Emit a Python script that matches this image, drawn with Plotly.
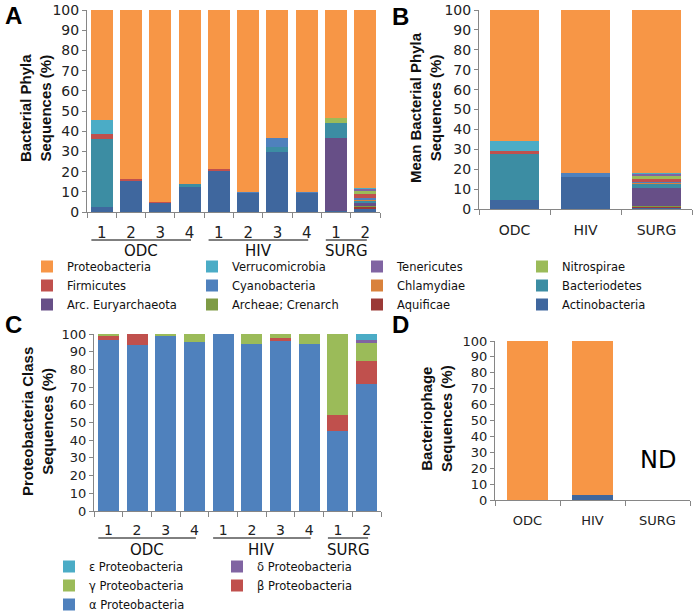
import plotly.graph_objects as go

W, H = 699, 612

# sample labels (panels A and C)
samples = ["1", "2", "3", "4", "1", "2", "3", "4", "1", "2"]
sample_groups = ["ODC"] * 4 + ["HIV"] * 4 + ["SURG"] * 2
groups = ["ODC", "HIV", "SURG"]

# panel A: % of bacterial phyla per sample (stack order bottom -> top)
phyla_a = {
    "Actinobacteria": [2.5, 15.5, 4.5, 12.5, 20.5, 9.5, 29.5, 9.5, 0.3, 1.5],
    "Aquificae": [0, 0, 0, 0, 0, 0, 0, 0, 0, 1.0],
    "Archeae; Crenarch": [0, 0, 0, 0, 0, 0, 0, 0, 0, 0.5],
    "Arc. Euryarchaeota": [0, 0, 0, 0, 0, 0, 0, 0, 36.2, 1.5],
    "Bacteriodetes": [33.5, 0, 0, 1.5, 0, 0, 2.5, 0, 7.5, 1.0],
    "Chlamydiae": [0, 0, 0, 0, 0, 0, 0, 0, 0, 0.5],
    "Cyanobacteria": [0, 0, 0, 0, 0, 0.5, 4.5, 0.5, 0, 1.0],
    "Firmicutes": [2.5, 1.0, 0.3, 0, 1.0, 0, 0, 0, 0, 2.0],
    "Nitrospirae": [0, 0, 0, 0, 0, 0, 0, 0, 2.5, 1.5],
    "Tenericutes": [0, 0, 0, 0, 0, 0, 0, 0, 0, 1.0],
    "Verrucomicrobia": [7.0, 0, 0, 0, 0, 0, 0, 0, 0, 0.5],
    "Proteobacteria": [54.5, 83.5, 95.2, 86.0, 78.5, 90.0, 63.5, 90.0, 53.5, 88.0],
}

# panel B: mean % per group
phyla_b = {
    "Actinobacteria": [4.5, 16.0, 0.6],
    "Aquificae": [0, 0, 0.5],
    "Archeae; Crenarch": [0, 0, 0.3],
    "Arc. Euryarchaeota": [0, 0, 9.2],
    "Bacteriodetes": [23.0, 0, 2.0],
    "Chlamydiae": [0, 0, 0.5],
    "Cyanobacteria": [0, 2.3, 0.3],
    "Firmicutes": [1.5, 0, 1.7],
    "Nitrospirae": [0, 0, 1.6],
    "Tenericutes": [0, 0, 1.0],
    "Verrucomicrobia": [5.0, 0, 0.4],
    "Proteobacteria": [66.0, 81.7, 81.9],
}

# order used in the legend (row by row)
legend_order = ["Proteobacteria", "Verrucomicrobia", "Tenericutes", "Nitrospirae",
                "Firmicutes", "Cyanobacteria", "Chlamydiae", "Bacteriodetes",
                "Arc. Euryarchaeota", "Archeae; Crenarch", "Aquificae", "Actinobacteria"]

colors = {
    "Proteobacteria": "#F79646", "Verrucomicrobia": "#4BACC6", "Tenericutes": "#8064A2",
    "Nitrospirae": "#9BBB59", "Firmicutes": "#C0504D", "Cyanobacteria": "#4F81BD",
    "Chlamydiae": "#D9823C", "Bacteriodetes": "#3C8DA3", "Arc. Euryarchaeota": "#674F87",
    "Archeae; Crenarch": "#7E9B45", "Aquificae": "#9B3A37", "Actinobacteria": "#3F679E",
}

# panel C: proteobacteria classes
alpha = [96.5, 94.0, 99.0, 95.5, 100.0, 94.5, 96.0, 94.5, 45.0, 71.5]
beta = [2.5, 6.0, 0, 0, 0, 0, 2.0, 0, 9.5, 13.5]
gamma = [1.0, 0, 1.0, 4.5, 0, 5.5, 2.0, 5.5, 45.5, 10.0]
delta = [0, 0, 0, 0, 0, 0, 0, 0, 0, 1.5]
epsilon = [0, 0, 0, 0, 0, 0, 0, 0, 0, 3.5]

# panel D: bacteriophage host phyla (SURG not determined)
phage_actino = [0, 3.0, 0]
phage_proteo = [100.0, 97.0, 0]

xs = list(range(len(samples)))
xg = list(range(len(groups)))

fig = go.Figure()

for name in phyla_a:
    fig.add_trace(go.Bar(x=xs, y=phyla_a[name], name=name, marker_color=colors[name],
                         width=0.75, xaxis="x", yaxis="y", legend="legend",
                         legendrank=legend_order.index(name) + 1))
for name in phyla_b:
    fig.add_trace(go.Bar(x=xg, y=phyla_b[name], name=name, marker_color=colors[name],
                         width=0.7, xaxis="x2", yaxis="y2", showlegend=False))

cls = [("α Proteobacteria", alpha, "#4F81BD", "legend2"),
       ("β Proteobacteria", beta, "#C0504D", "legend3"),
       ("γ Proteobacteria", gamma, "#9BBB59", "legend2"),
       ("δ Proteobacteria", delta, "#8064A2", "legend3"),
       ("ε Proteobacteria", epsilon, "#4BACC6", "legend2")]
for i, (name, vals, col, lg) in enumerate(cls):
    fig.add_trace(go.Bar(x=xs, y=vals, name=name, marker_color=col, width=0.73,
                         xaxis="x3", yaxis="y3", legend=lg, legendrank=10 - i))

fig.add_trace(go.Bar(x=xg, y=phage_actino, marker_color=colors["Actinobacteria"], width=0.62,
                     xaxis="x4", yaxis="y4", showlegend=False))
fig.add_trace(go.Bar(x=xg, y=phage_proteo, marker_color=colors["Proteobacteria"], width=0.62,
                     xaxis="x4", yaxis="y4", showlegend=False))

fig.update_traces(marker_line_width=0)

# pixel -> paper fraction
def fx(p):
    return p / W

def fy(p):
    return 1 - p / H

def px_x(a, b):
    return [fx(a), fx(b)]

def px_y(top, bottom):
    return [fy(bottom), fy(top)]

axcol = "#868686"

def yax(dom, size, anchor):
    return dict(domain=dom, range=[0, 100], dtick=10, anchor=anchor, showgrid=False,
                zeroline=False, showline=True, linecolor=axcol, ticks="outside", ticklen=4,
                tickcolor=axcol, ticklabeloverflow="allow", fixedrange=True,
                tickfont=dict(family="DejaVu Sans", size=size, color="#222"))

def xax(dom, labels, size, anchor, standoff):
    n = len(labels)
    return dict(domain=dom, range=[-0.5, n - 0.5], anchor=anchor, showgrid=False,
                zeroline=False, showline=True, linecolor=axcol, fixedrange=True,
                tickmode="array", tickvals=list(range(n)), ticktext=labels, ticks="",
                ticklabelstandoff=standoff,
                tickfont=dict(family="DejaVu Sans", size=size, color="#222"),
                minor=dict(tickmode="array", tickvals=[i - 0.5 for i in range(n + 1)],
                           ticks="outside", ticklen=5, tickcolor=axcol))

legfont = dict(family="DejaVu Sans", size=11.5, color="#111")

fig.update_layout(
    width=W, height=H, margin=dict(l=0, r=0, t=0, b=0, autoexpand=False),
    paper_bgcolor="white", plot_bgcolor="white", barmode="stack", hovermode=False,
    xaxis=xax(px_x(87, 380), samples, 15, "y", 7),
    yaxis=yax(px_y(10, 212), 14, "x"),
    xaxis2=xax(px_x(479, 692), groups, 14, "y2", 8),
    yaxis2=yax(px_y(10, 209), 14, "x2"),
    xaxis3=xax(px_x(94, 381), samples, 14, "y3", 6),
    yaxis3=yax(px_y(334, 511), 13, "x3"),
    xaxis4=xax(px_x(495, 690), groups, 13, "y4", 8),
    yaxis4=yax(px_y(341, 500), 13, "x4"),
    legend=dict(orientation="h", x=fx(27), y=fy(252), xanchor="left", yanchor="top",
                entrywidth=120, font=legfont, bgcolor="rgba(0,0,0,0)", traceorder="normal"),
    legend2=dict(x=fx(49), y=fy(552), xanchor="left", yanchor="top",
                 font=legfont, bgcolor="rgba(0,0,0,0)", traceorder="normal"),
    legend3=dict(x=fx(217), y=fy(552), xanchor="left", yanchor="top",
                 font=legfont, bgcolor="rgba(0,0,0,0)", traceorder="normal"),
    showlegend=True,
)

ann = []
title_font = dict(family="Liberation Sans", size=15, color="#111")
for txt, x, y in [("Bacterial Phyla<br>Sequences (%)", 35, 108),
                  ("Mean Bacterial Phyla<br>Sequences (%)", 425, 108),
                  ("Proteobacteria Class<br>Sequences (%)", 37, 422),
                  ("Bacteriophage<br>Sequences (%)", 436, 419)]:
    ann.append(dict(text="<b>" + txt + "</b>", x=fx(x), y=fy(y), xref="paper", yref="paper",
                    xanchor="center", yanchor="middle", textangle=-90, showarrow=False,
                    font=title_font))
for txt, x, y in [("A", 13, 15), ("B", 400, 16), ("C", 13, 324), ("D", 400, 324)]:
    ann.append(dict(text="<b>" + txt + "</b>", x=fx(x), y=fy(y), xref="paper", yref="paper",
                    xanchor="center", yanchor="middle", showarrow=False,
                    font=dict(family="Liberation Sans", size=24, color="black")))
ann.append(dict(text="ND", x=2, y=25, xref="x4", yref="y4", showarrow=False,
                xanchor="center", yanchor="middle",
                font=dict(family="DejaVu Sans", size=24, color="black")))

# group brackets under sample axes (A and C)
shapes = []
for xref, line_y, label_y in [("x", 240, 251), ("x3", 538, 550)]:
    for g in groups:
        idx = [i for i, s in enumerate(sample_groups) if s == g]
        x0, x1 = idx[0] - 0.35, idx[-1] + 0.05
        shapes.append(dict(type="line", xref=xref, yref="paper", x0=x0, x1=x1,
                           y0=fy(line_y), y1=fy(line_y),
                           line=dict(color="black", width=1)))
        ann.append(dict(text=g, x=(x0 + x1) / 2, y=fy(label_y), xref=xref, yref="paper",
                        xanchor="center", yanchor="middle", showarrow=False,
                        font=dict(family="DejaVu Sans", size=15, color="#111")))

fig.update_layout(annotations=ann, shapes=shapes)
# drop the browser's default 8px body margin so the figure sits at the page corner
fig.write_html("out.html", config={"displayModeBar": False, "staticPlot": True},
               post_script="document.body.style.margin = '0';")
